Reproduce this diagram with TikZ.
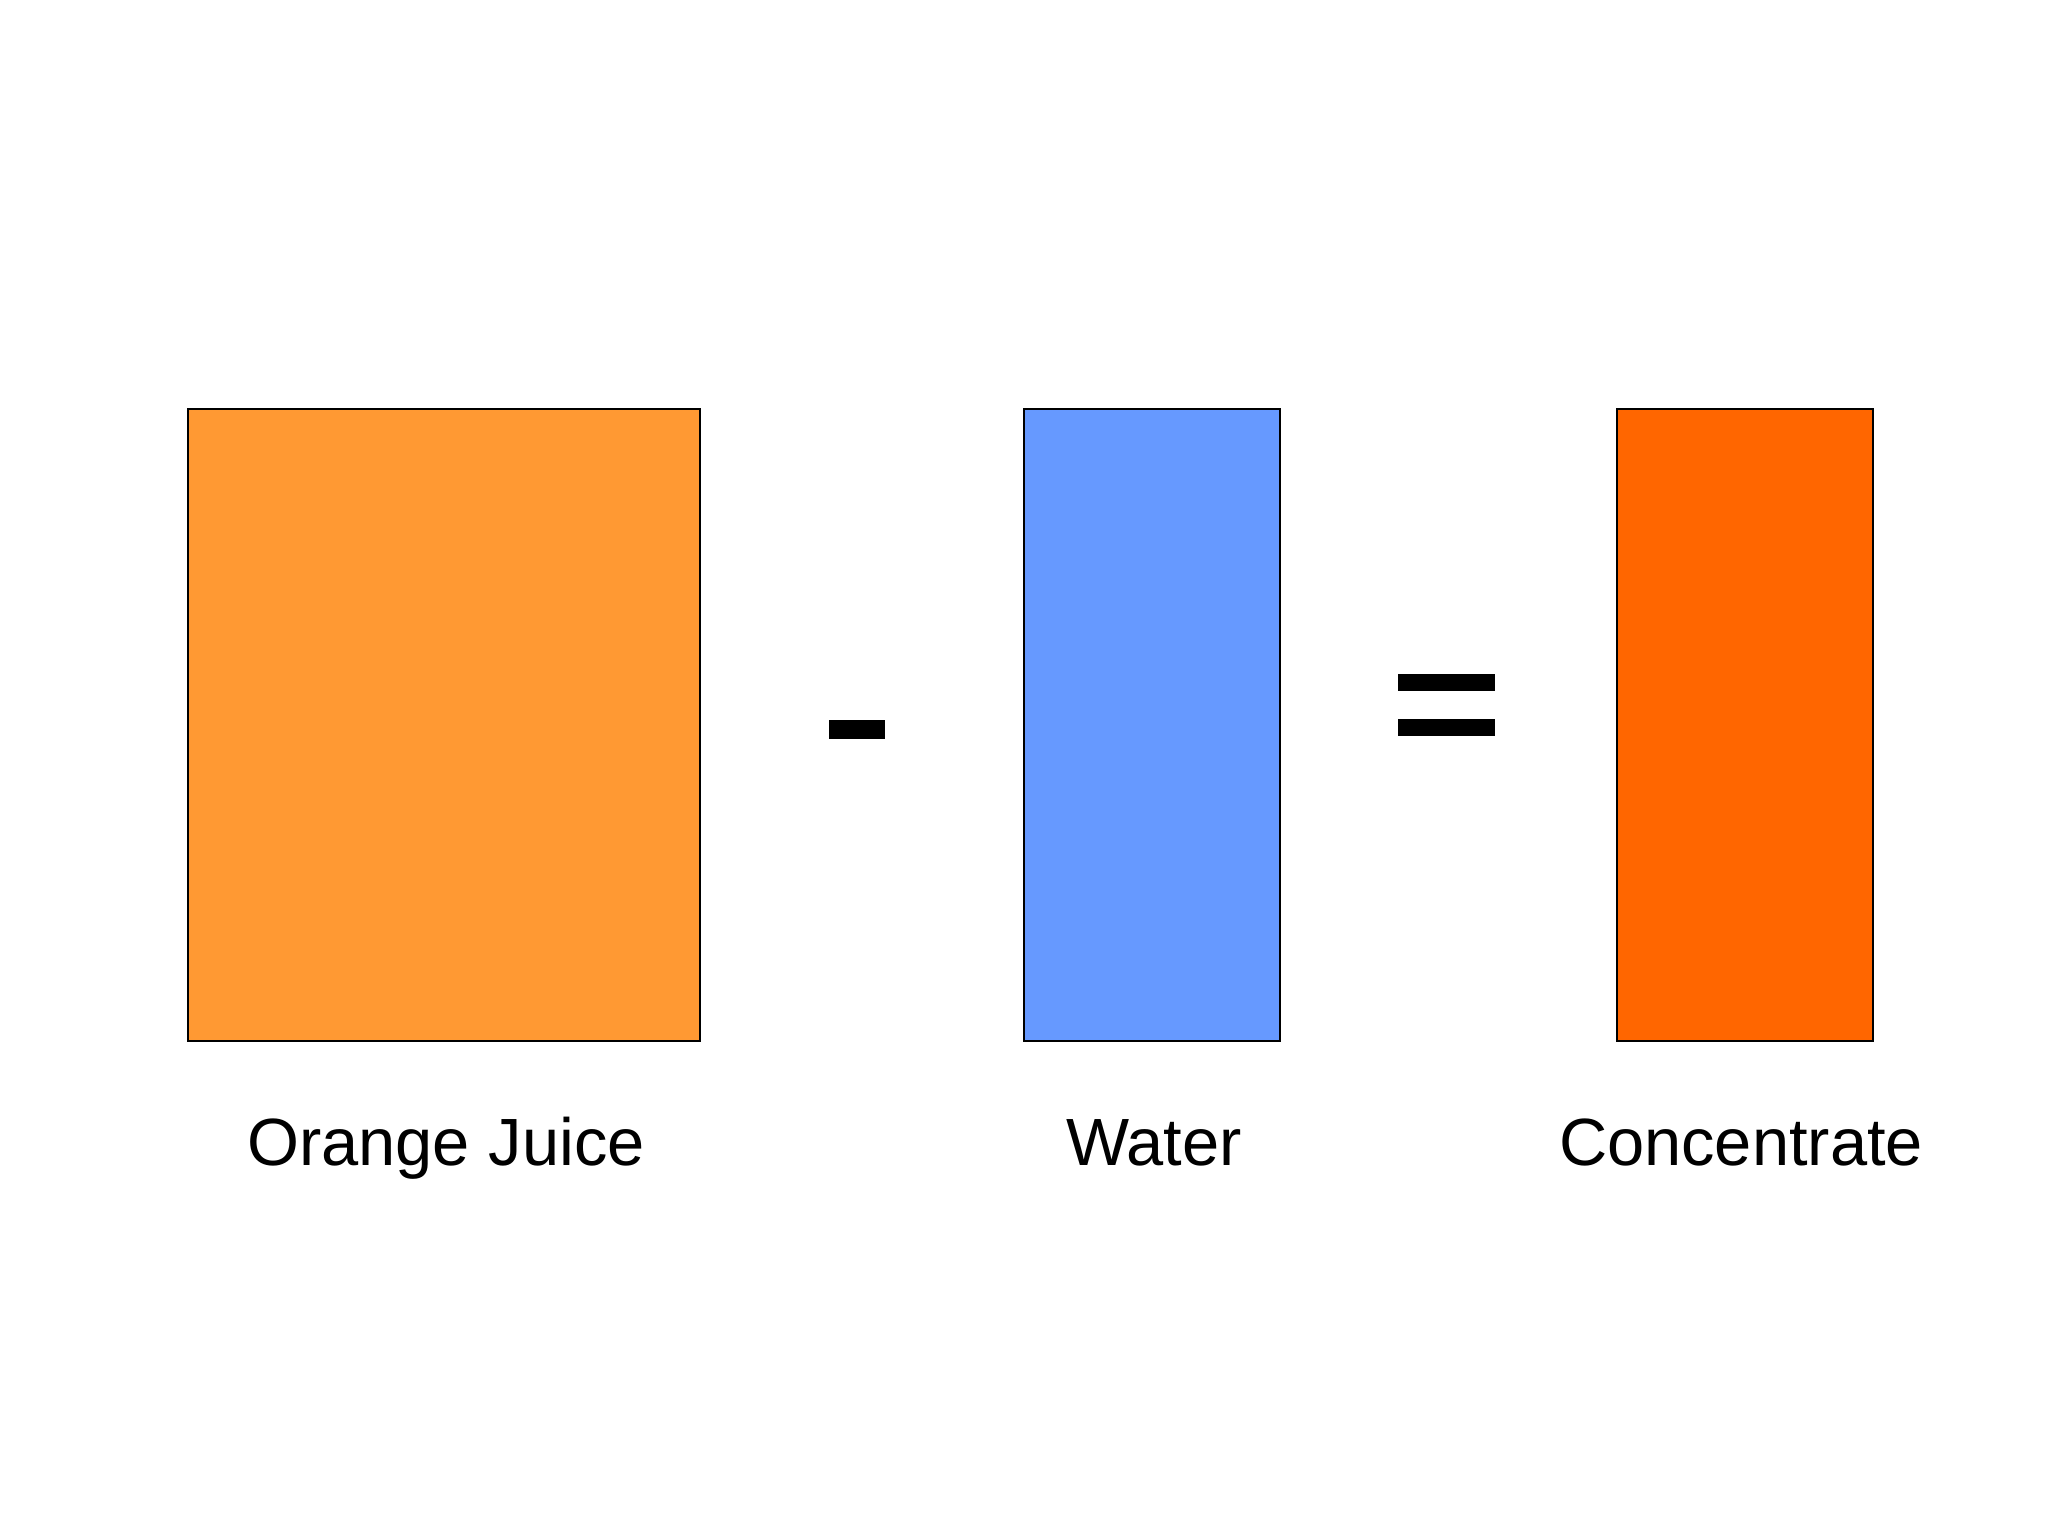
\documentclass[tikz,border=0pt]{standalone}
\usepackage{fontspec}
\setmainfont{Liberation Sans}
\definecolor{ojuice}{HTML}{FF9933}
\definecolor{water}{HTML}{6699FF}
\definecolor{conc}{HTML}{FF6600}
\begin{document}
\begin{tikzpicture}[x=0.01cm,y=-0.01cm,
  box/.style={draw=black,line width=0.7pt,inner sep=0pt,minimum height=6.32cm},
  bar/.style={fill=black,draw=none,inner sep=0pt},
  lbl/.style={font=\fontsize{19}{23}\selectfont,anchor=base,inner sep=0pt}]
\useasboundingbox[fill=white] (0,0) rectangle (2048,1536);
\node[box,fill=ojuice,minimum width=5.12cm] (oj) at (444,725) {};
\node[box,fill=water,minimum width=2.56cm] (wa) at (1152,725) {};
\node[box,fill=conc,minimum width=2.56cm] (co) at (1745,725) {};
\node[bar,minimum width=0.56cm,minimum height=0.19cm] (minus) at (857,729.5) {};
\node[bar,minimum width=0.97cm,minimum height=0.17cm] (eqa) at (1446.5,682.5) {};
\node[bar,minimum width=0.97cm,minimum height=0.17cm] (eqb) at (1446.5,727.5) {};
\node[lbl] (ojl) at (446,1165) {Orange Juice};
\node[lbl] (wal) at (1154,1165) {Water};
\node[lbl] (col) at (1741,1165) {Concentrate};
\end{tikzpicture}
\end{document}
